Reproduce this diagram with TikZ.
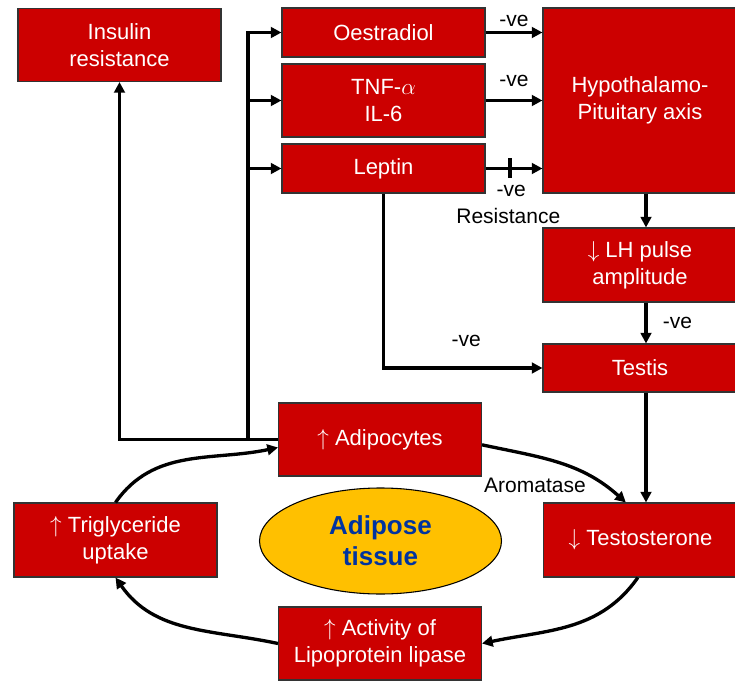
\documentclass[tikz,border=0pt]{standalone}
\usepackage{fontspec}
\setmainfont{Liberation Sans}
\usepackage{xcolor}
\usepackage{tikz}
\usetikzlibrary{arrows.meta,shapes.geometric}
\definecolor{boxred}{HTML}{CC0000}
\definecolor{fatgold}{HTML}{FFC000}
\definecolor{fatblue}{HTML}{0033A0}

\begin{document}
\begin{tikzpicture}[x=0.75pt, y=0.75pt,
    box/.style={draw=black!80, line width=0.8pt, fill=boxred, text=white, align=center,
      inner sep=0pt, font=\fontsize{16.5}{20}\selectfont},
    lbl/.style={font=\fontsize{15.75}{19}\selectfont, inner sep=0pt},
    ar/.style={line width=2.5pt, -{Triangle[length=8pt, width=8pt]}}]
    \useasboundingbox (0, 0) rectangle (735, -681);
    % boxes
    \node[box, minimum width=152.25pt, minimum height=54.75pt] (ins) at (119.5, -45) {Insulin\\resistance};
    \node[box, minimum width=152.25pt, minimum height=36.75pt] (oes) at (383.5, -32.5) {Oestradiol};
    \node[box, minimum width=152.25pt, minimum height=54.75pt] (tnf) at (383.5, -100.5) {TNF-$\alpha$\\IL-6};
    \node[box, minimum width=152.25pt, minimum height=36.75pt] (lep) at (383.5, -168.5) {Leptin};
    \node[box, minimum width=145.5pt, minimum height=138.75pt] (hpa) at (640, -100.5) {Hypothalamo-\\Pituitary axis};
    \node[box, minimum width=145.5pt, minimum height=55.5pt] (lh) at (640, -265) {$\downarrow$ LH pulse\\amplitude};
    \node[box, minimum width=145.5pt, minimum height=36pt] (tes) at (640, -368) {Testis};
    \node[box, minimum width=152.25pt, minimum height=54.75pt] (adi) at (380, -439.5) {$\uparrow$ Adipocytes};
    \node[box, minimum width=145.5pt, minimum height=55.5pt] (tst) at (640.5, -540) {$\downarrow$ Testosterone};
    \node[box, minimum width=152.25pt, minimum height=55.5pt] (tri) at (115.5, -540) {$\uparrow$ Triglyceride\\uptake};
    \node[box, minimum width=152.25pt, minimum height=54.75pt] (lip) at (380, -643.5) {$\uparrow$ Activity of\\Lipoprotein lipase};
    \node[ellipse, draw=black, line width=0.8pt, fill=fatgold, text=fatblue, align=center, inner sep=0pt,
      minimum width=181.5pt, minimum height=79.5pt, font=\bfseries\fontsize{19.5}{23.5}\selectfont] (fat) at (380.5, -541) {Adipose\\tissue};
    % arrows
    \coordinate (trunk) at (248, -439.5);
    \coordinate (rc) at (646, 0);
    \draw[ar] (adi.west) -| (ins.south);
    \draw[ar] (trunk) |- (oes.west);
    \draw[ar] (trunk) |- (tnf.west);
    \draw[ar] (trunk) |- (lep.west);
    \draw[ar] (oes.east) -- node[lbl, yshift=9pt] (ve1) {-ve} (oes.east -| hpa.west);
    \draw[ar] (tnf.east) -- node[lbl, yshift=14.6pt] (ve2) {-ve} (tnf.east -| hpa.west);
    \draw[ar] (lep.east) -- coordinate[pos=0.43] (blk)
      node[pos=0.45, lbl, yshift=-16.9pt] (ve3) {-ve}
      node[pos=0.40, lbl, yshift=-35.6pt] (res) {Resistance} (lep.east -| hpa.west);
    \draw[line width=2.5pt] (blk) ++(0, 10) -- ++(0, -20);
    \draw[ar] (lep.south) |- node[pos=0.76, lbl, yshift=20pt] (ve4) {-ve} (tes.west);
    \draw[ar] (hpa.south -| rc) -- (lh.north -| rc);
    \draw[ar] (lh.south -| rc) -- node[lbl, xshift=23.6pt] (ve5) {-ve} (tes.north -| rc);
    \draw[ar] (tes.south -| rc) -- (tst.north -| rc);
    % cycle round the adipose tissue
    \draw[ar] ([yshift=-4pt]adi.east) to[out=-12, in=138] ([xshift=-11pt]tst.north);
    \draw[ar] ([xshift=-2pt]tst.south) to[out=-125, in=12] (lip.east);
    \draw[ar] (lip.west) to[out=168, in=-55] (tri.south);
    \draw[ar] (tri.north) to[out=55, in=192] ([yshift=-6pt]adi.west);
    \node[lbl] (aro) at (535, -485) {Aromatase};
\end{tikzpicture}
\end{document}
